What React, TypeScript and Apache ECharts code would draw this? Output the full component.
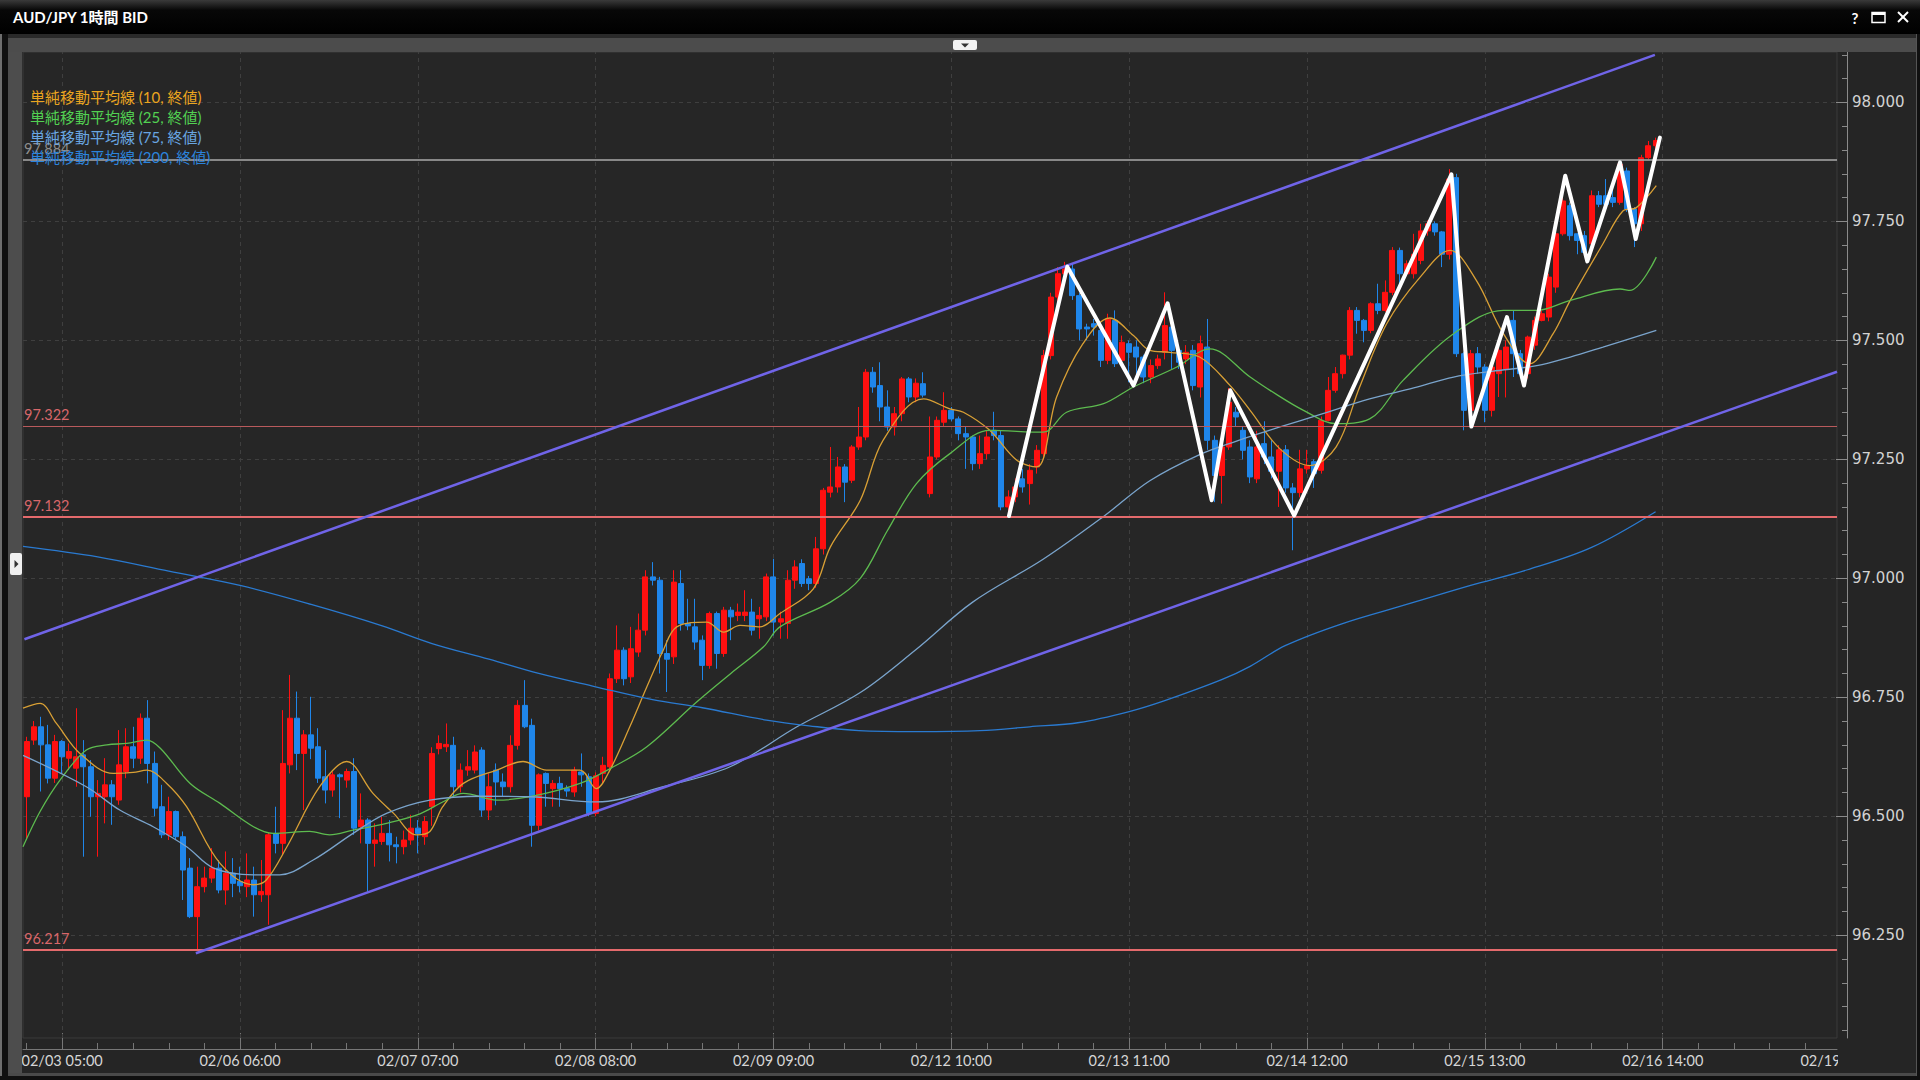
import React, { useEffect, useRef } from 'react';
import * as echarts from 'echarts';

// ---------------- data ----------------
// hourly candles, [open, close, low, high], bar index 0 = 02/03 00:00
const CANDLES: number[][] = [
  [96.541, 96.657, 96.45, 96.667], [96.66, 96.688, 96.65, 96.7], [96.688, 96.65, 96.552, 96.709], [96.65, 96.58, 96.569, 96.692],
  [96.58, 96.657, 96.57, 96.671], [96.657, 96.625, 96.59, 96.66], [96.622, 96.636, 96.597, 96.653], [96.601, 96.625, 96.562, 96.727],
  [96.629, 96.604, 96.415, 96.66], [96.604, 96.541, 96.499, 96.618], [96.541, 96.548, 96.415, 96.576], [96.541, 96.566, 96.485, 96.622],
  [96.566, 96.541, 96.482, 96.576], [96.534, 96.608, 96.524, 96.681], [96.594, 96.646, 96.58, 96.685], [96.646, 96.622, 96.601, 96.688],
  [96.622, 96.706, 96.61, 96.716], [96.706, 96.611, 96.569, 96.744], [96.611, 96.517, 96.5, 96.636], [96.52, 96.461, 96.454, 96.566],
  [96.461, 96.51, 96.45, 96.541], [96.51, 96.457, 96.45, 96.512], [96.457, 96.387, 96.324, 96.468], [96.391, 96.289, 96.286, 96.412],
  [96.289, 96.352, 96.217, 96.394], [96.352, 96.37, 96.34, 96.394], [96.37, 96.391, 96.36, 96.433], [96.391, 96.345, 96.338, 96.408],
  [96.345, 96.38, 96.314, 96.426], [96.38, 96.359, 96.33, 96.412], [96.363, 96.354, 96.34, 96.394], [96.352, 96.366, 96.33, 96.422],
  [96.366, 96.335, 96.289, 96.394], [96.335, 96.342, 96.32, 96.408], [96.335, 96.461, 96.272, 96.465], [96.464, 96.443, 96.422, 96.52],
  [96.443, 96.611, 96.42, 96.723], [96.608, 96.706, 96.59, 96.797], [96.706, 96.632, 96.597, 96.762], [96.632, 96.671, 96.513, 96.681],
  [96.671, 96.643, 96.62, 96.751], [96.646, 96.58, 96.57, 96.685], [96.583, 96.555, 96.527, 96.639], [96.555, 96.587, 96.541, 96.594],
  [96.587, 96.583, 96.496, 96.59], [96.576, 96.594, 96.56, 96.6], [96.594, 96.475, 96.461, 96.622], [96.478, 96.492, 96.443, 96.548],
  [96.492, 96.443, 96.342, 96.496], [96.443, 96.45, 96.394, 96.485], [96.447, 96.464, 96.44, 96.499], [96.464, 96.44, 96.405, 96.492],
  [96.44, 96.436, 96.401, 96.457], [96.436, 96.45, 96.42, 96.47], [96.45, 96.475, 96.44, 96.503], [96.475, 96.464, 96.422, 96.492],
  [96.457, 96.489, 96.44, 96.5], [96.52, 96.632, 96.48, 96.645], [96.642, 96.653, 96.63, 96.67], [96.646, 96.651, 96.635, 96.695],
  [96.649, 96.562, 96.541, 96.667], [96.562, 96.597, 96.55, 96.611], [96.597, 96.604, 96.585, 96.639], [96.597, 96.635, 96.59, 96.649],
  [96.639, 96.513, 96.499, 96.645], [96.513, 96.562, 96.492, 96.59], [96.597, 96.572, 96.523, 96.611], [96.572, 96.562, 96.541, 96.59],
  [96.562, 96.649, 96.55, 96.67], [96.649, 96.733, 96.64, 96.744], [96.733, 96.688, 96.685, 96.786], [96.691, 96.481, 96.436, 96.705],
  [96.481, 96.587, 96.47, 96.59], [96.59, 96.569, 96.52, 96.592], [96.558, 96.569, 96.52, 96.576], [96.569, 96.558, 96.52, 96.583],
  [96.558, 96.553, 96.541, 96.565], [96.551, 96.597, 96.541, 96.604], [96.593, 96.587, 96.562, 96.632], [96.583, 96.506, 96.5, 96.59],
  [96.506, 96.585, 96.5, 96.592], [96.59, 96.607, 96.57, 96.625], [96.604, 96.789, 96.595, 96.8], [96.789, 96.849, 96.78, 96.901],
  [96.849, 96.789, 96.775, 96.855], [96.793, 96.852, 96.78, 96.898], [96.845, 96.891, 96.835, 96.926], [96.891, 97.003, 96.88, 97.017],
  [97.003, 96.996, 96.985, 97.034], [96.996, 96.842, 96.8, 97.003], [96.842, 96.83, 96.761, 96.87], [96.835, 96.992, 96.82, 97.017],
  [96.989, 96.905, 96.89, 97.017], [96.905, 96.9, 96.891, 96.957], [96.898, 96.866, 96.85, 96.957], [96.87, 96.817, 96.786, 96.88],
  [96.817, 96.926, 96.81, 96.93], [96.926, 96.842, 96.81, 96.93], [96.842, 96.933, 96.835, 96.94], [96.933, 96.919, 96.87, 96.94],
  [96.922, 96.929, 96.91, 96.947], [96.922, 96.929, 96.91, 96.975], [96.929, 96.891, 96.88, 96.957], [96.915, 96.922, 96.873, 96.94],
  [96.919, 97.003, 96.91, 97.01], [97.003, 96.908, 96.88, 97.041], [96.908, 96.915, 96.873, 96.93], [96.905, 96.996, 96.873, 97.017],
  [96.996, 97.024, 96.978, 97.038], [97.031, 96.989, 96.982, 97.04], [96.999, 96.989, 96.975, 97.005], [96.989, 97.062, 96.98, 97.087],
  [97.062, 97.185, 97.05, 97.19], [97.181, 97.192, 97.17, 97.276], [97.192, 97.234, 97.18, 97.255], [97.234, 97.202, 97.16, 97.24],
  [97.206, 97.276, 97.2, 97.28], [97.276, 97.297, 97.27, 97.36], [97.297, 97.433, 97.29, 97.44], [97.433, 97.402, 97.39, 97.444],
  [97.405, 97.36, 97.33, 97.454], [97.36, 97.318, 97.31, 97.395], [97.318, 97.346, 97.3, 97.36], [97.346, 97.419, 97.33, 97.423],
  [97.419, 97.381, 97.37, 97.423], [97.381, 97.41, 97.37, 97.42], [97.409, 97.385, 97.38, 97.433], [97.178, 97.255, 97.17, 97.34],
  [97.255, 97.332, 97.25, 97.34], [97.328, 97.353, 97.32, 97.391], [97.353, 97.335, 97.33, 97.36], [97.335, 97.304, 97.29, 97.34],
  [97.304, 97.297, 97.23, 97.32], [97.297, 97.241, 97.227, 97.3], [97.241, 97.262, 97.23, 97.3], [97.262, 97.297, 97.25, 97.31],
  [97.311, 97.3, 97.29, 97.35], [97.3, 97.15, 97.143, 97.31], [97.15, 97.171, 97.135, 97.185], [97.171, 97.192, 97.16, 97.21],
  [97.209, 97.192, 97.18, 97.23], [97.199, 97.227, 97.155, 97.24], [97.234, 97.269, 97.22, 97.28], [97.262, 97.468, 97.25, 97.48],
  [97.468, 97.591, 97.46, 97.6], [97.591, 97.64, 97.58, 97.654], [97.64, 97.65, 97.62, 97.665], [97.65, 97.594, 97.585, 97.661],
  [97.594, 97.524, 97.5, 97.6], [97.528, 97.524, 97.5, 97.535], [97.535, 97.528, 97.51, 97.545], [97.521, 97.458, 97.444, 97.535],
  [97.458, 97.545, 97.45, 97.556], [97.542, 97.451, 97.444, 97.563], [97.458, 97.496, 97.45, 97.51], [97.493, 97.475, 97.412, 97.5],
  [97.486, 97.465, 97.42, 97.5], [97.465, 97.423, 97.41, 97.47], [97.423, 97.447, 97.41, 97.46], [97.447, 97.461, 97.44, 97.47],
  [97.475, 97.531, 97.46, 97.601], [97.528, 97.479, 97.44, 97.54], [97.479, 97.454, 97.44, 97.49], [97.461, 97.475, 97.45, 97.49],
  [97.479, 97.405, 97.395, 97.49], [97.402, 97.493, 97.38, 97.51], [97.486, 97.29, 97.27, 97.545], [97.29, 97.216, 97.16, 97.3],
  [97.216, 97.276, 97.157, 97.29], [97.276, 97.37, 97.27, 97.4], [97.349, 97.339, 97.32, 97.36], [97.311, 97.269, 97.25, 97.32],
  [97.276, 97.213, 97.2, 97.29], [97.209, 97.276, 97.2, 97.31], [97.283, 97.255, 97.24, 97.33], [97.255, 97.225, 97.21, 97.29],
  [97.225, 97.27, 97.15, 97.28], [97.27, 97.19, 97.18, 97.28], [97.19, 97.18, 97.059, 97.2], [97.18, 97.23, 97.17, 97.27],
  [97.23, 97.237, 97.22, 97.27], [97.245, 97.22, 97.19, 97.25], [97.227, 97.332, 97.22, 97.34], [97.332, 97.395, 97.33, 97.423],
  [97.395, 97.43, 97.39, 97.444], [97.43, 97.469, 97.42, 97.47], [97.469, 97.563, 97.46, 97.57], [97.563, 97.542, 97.514, 97.57],
  [97.542, 97.521, 97.496, 97.545], [97.521, 97.577, 97.515, 97.58], [97.577, 97.563, 97.555, 97.619], [97.563, 97.601, 97.56, 97.626],
  [97.601, 97.689, 97.595, 97.696], [97.689, 97.64, 97.619, 97.695], [97.64, 97.661, 97.635, 97.668], [97.64, 97.681, 97.63, 97.724],
  [97.668, 97.73, 97.66, 97.745], [97.73, 97.745, 97.72, 97.752], [97.745, 97.728, 97.72, 97.75], [97.728, 97.681, 97.654, 97.73],
  [97.681, 97.839, 97.67, 97.86], [97.842, 97.472, 97.465, 97.85], [97.472, 97.353, 97.311, 97.475], [97.353, 97.472, 97.33, 97.48],
  [97.472, 97.444, 97.43, 97.486], [97.444, 97.353, 97.328, 97.45], [97.353, 97.444, 97.34, 97.45], [97.43, 97.479, 97.381, 97.486],
  [97.44, 97.486, 97.38, 97.5], [97.542, 97.472, 97.423, 97.563], [97.472, 97.43, 97.42, 97.48], [97.43, 97.507, 97.42, 97.51],
  [97.49, 97.542, 97.48, 97.55], [97.542, 97.556, 97.54, 97.563], [97.549, 97.633, 97.54, 97.64], [97.612, 97.724, 97.6, 97.73],
  [97.724, 97.793, 97.72, 97.8], [97.783, 97.72, 97.71, 97.79], [97.724, 97.71, 97.681, 97.725], [97.72, 97.685, 97.675, 97.73],
  [97.703, 97.804, 97.7, 97.815], [97.804, 97.786, 97.78, 97.814], [97.804, 97.786, 97.78, 97.839], [97.8, 97.79, 97.78, 97.82],
  [97.79, 97.87, 97.785, 97.877], [97.856, 97.776, 97.77, 97.863], [97.776, 97.745, 97.696, 97.78], [97.745, 97.884, 97.73, 97.89],
  [97.884, 97.909, 97.88, 97.919], [97.909, 97.92, 97.9, 97.926],
];

const BAR_SLOTS = 255; // bar slots shown on the time axis
const TICK_LABELS = [
  '02/03 05:00', '02/06 06:00', '02/07 07:00', '02/08 08:00', '02/09 09:00',
  '02/12 10:00', '02/13 11:00', '02/14 12:00', '02/15 13:00', '02/16 14:00',
];
const TICK_FIRST = 5;
const TICK_STEP = 25;
const NEXT_TICK_LABEL = '02/19 15:00';
const MINOR_X_STEP = 5;

const Y_MIN = 96.034;
const Y_MAX = 98.106;
const Y_LABELS = [96.25, 96.5, 96.75, 97.0, 97.25, 97.5, 97.75, 98.0];
const Y_MINOR_STEP = 0.05;

// moving averages, [bar index, value]
const MA10 = [
  [-0.5, 96.727], [1.9, 96.737], [4.2, 96.695], [7.5, 96.632], [12.2, 96.59], [15, 96.592], [16.9, 96.597],
  [19.7, 96.569], [22.5, 96.52], [27.2, 96.401], [31.9, 96.356], [33.7, 96.366], [36.6, 96.436], [41.2, 96.562],
  [45, 96.615], [48.7, 96.548], [51.6, 96.506], [54.8, 96.461], [56.7, 96.468], [58.5, 96.52], [61.4, 96.569],
  [66.1, 96.597], [69.8, 96.615], [73.1, 96.597], [77.8, 96.597], [80.1, 96.558], [82, 96.597], [84.8, 96.688],
  [87.2, 96.772], [89.5, 96.849], [91.4, 96.898], [95.6, 96.908], [98, 96.887], [100.3, 96.901], [103.1, 96.898],
  [105.9, 96.926], [110.6, 96.978], [113, 97.066], [117.2, 97.164], [120.4, 97.29], [126.1, 97.377], [129.8, 97.356],
  [131.7, 97.349], [135.4, 97.311], [139.2, 97.248], [142, 97.234], [144.8, 97.381], [148.5, 97.493], [152.3, 97.547],
  [155.6, 97.51], [157.9, 97.479], [160.7, 97.475], [164.9, 97.465], [169.2, 97.405], [172, 97.353], [176.2, 97.272],
  [180.4, 97.237], [184.1, 97.276], [187.4, 97.402], [191.2, 97.535], [195.9, 97.633], [200.1, 97.689], [203.8, 97.626],
  [207.6, 97.514], [211.3, 97.451], [214.6, 97.514], [217, 97.584], [221.6, 97.703], [224.4, 97.772], [226.3, 97.779],
  [229.1, 97.825],
];
const MA25 = [
  [-0.5, 96.436], [1.9, 96.51], [4.7, 96.576], [8.4, 96.639], [11.3, 96.65], [14.1, 96.653], [16.9, 96.66],
  [18.8, 96.643], [23, 96.569], [27.2, 96.527], [31.9, 96.478], [34.7, 96.464], [39.8, 96.468], [42.6, 96.461],
  [45.9, 96.471], [50.6, 96.485], [55.3, 96.505], [58.5, 96.53], [61.4, 96.548], [66.1, 96.534], [70.8, 96.541],
  [77.8, 96.569], [82.5, 96.604], [87.2, 96.646], [94.2, 96.74], [99, 96.8], [103.6, 96.856], [105.9, 96.898],
  [113, 96.95], [117.2, 97.0], [121, 97.1], [125.1, 97.199], [129.8, 97.262], [135.4, 97.311], [142.9, 97.307],
  [146.2, 97.349], [151.4, 97.367], [155.6, 97.402], [161.7, 97.444], [166.3, 97.482], [172, 97.423], [174.8, 97.395],
  [179.5, 97.353], [184.1, 97.325], [188.8, 97.335], [193.5, 97.416], [200.6, 97.514], [207.6, 97.563], [212.3, 97.563],
  [217, 97.584], [224, 97.608], [225.4, 97.605], [229.1, 97.675],
];
const MA75 = [
  [-0.5, 96.628], [8.4, 96.562], [13.1, 96.513], [17.8, 96.478], [22.5, 96.436], [26.3, 96.391], [31.9, 96.377],
  [35.6, 96.377], [40.3, 96.408], [45.9, 96.464], [50.6, 96.506], [56.7, 96.534], [64, 96.542], [70.8, 96.541],
  [80.1, 96.53], [89.5, 96.562], [98.9, 96.604], [108.3, 96.688], [117.2, 96.76], [125, 96.85], [133, 96.95],
  [142.9, 97.04], [151.4, 97.13], [157.9, 97.205], [164.9, 97.26], [170, 97.288], [176.2, 97.318], [182, 97.345],
  [188.8, 97.377], [195, 97.4], [200.6, 97.423], [206, 97.435], [212.3, 97.447], [217, 97.465], [221.6, 97.486],
  [229.1, 97.521],
];
const MA200 = [
  [-0.5, 97.067], [10, 97.045], [20, 97.015], [30, 96.985], [40, 96.945], [50, 96.9], [57, 96.863], [65, 96.83],
  [72, 96.8], [80, 96.772], [88, 96.745], [95, 96.728], [104, 96.702], [110, 96.69], [117, 96.68], [125, 96.678],
  [134, 96.68], [141, 96.688], [148, 96.697], [155, 96.72], [160, 96.743], [168, 96.787], [172, 96.815], [177, 96.859],
  [185, 96.905], [194, 96.945], [203, 96.985], [211, 97.018], [220, 97.065], [229, 97.14],
];

const MA_NAMES = ['単純移動平均線 (10, 終値)', '単純移動平均線 (25, 終値)', '単純移動平均線 (75, 終値)', '単純移動平均線 (200, 終値)'];

// drawn channel, levels and zigzag
const UPPER_CHANNEL = [[-0.3, 96.872], [228.9, 98.1]];
const LOWER_CHANNEL = [[23.8, 96.212], [254.5, 97.434]];
const LEVELS = [97.884, 97.322, 97.132, 96.217];
const ZIGZAG = [
  [138.1, 97.131], [146.3, 97.655], [155.6, 97.405], [160.4, 97.578], [166.6, 97.164], [169.2, 97.395],
  [178.2, 97.132], [200.3, 97.849], [203.1, 97.319], [208.1, 97.549], [210.5, 97.405], [216.3, 97.846],
  [219.4, 97.666], [224, 97.874], [226.2, 97.713], [229.6, 97.926],
];

// ---------------- styles ----------------
const FONT = 'Lato, "Noto Sans CJK JP", sans-serif';
const AXIS_FONT = '"DejaVu Sans", Lato, sans-serif';
const UP = '#ff1010';
const DOWN = '#1f86ea';
const MA_COLORS = ['#d9a035', '#5dbb4f', '#7aa4cc', '#2a7ad0'];
const LEGEND_COLORS = ['#eba51f', '#52d152', '#69a6e2', '#2b83dc'];
const LEVEL_STYLES = [
  { color: '#aaaaaa', width: 1.5, label: '#8e8e8e' },
  { color: '#b95a5c', width: 1, label: '#d8676a' },
  { color: '#e46a6c', width: 2, label: '#d8676a' },
  { color: '#e46a6c', width: 2, label: '#d8676a' },
];
const BG = '#252525';

function buildOption() {
  const categories = Array.from({ length: BAR_SLOTS }, (_, i) => String(i));
  const isMajor = (i: number) => i >= TICK_FIRST && (i - TICK_FIRST) % TICK_STEP === 0;
  const xMinor: number[] = [];
  for (let v = 0; v < BAR_SLOTS; v += MINOR_X_STEP) xMinor.push(v);
  const yMinor: number[] = [];
  for (let k = Math.ceil(Y_MIN / Y_MINOR_STEP); k * Y_MINOR_STEP <= Y_MAX; k++) yMinor.push(+(k * Y_MINOR_STEP).toFixed(2));
  const majorX = categories.map((_, i) => i).filter(isMajor);

  const maSeries = [MA10, MA25, MA75, MA200].map((d, k) => ({
    name: MA_NAMES[k],
    type: 'line',
    xAxisIndex: 1,
    yAxisIndex: 0,
    data: d,
    symbol: 'none',
    smooth: 0.35,
    z: 3,
    silent: true,
    lineStyle: { color: MA_COLORS[k], width: 1.3 },
    itemStyle: { color: MA_COLORS[k] },
    ...(k === 3
      ? {
          markLine: {
            z: 1,
            silent: true,
            symbol: 'none',
            label: { show: false },
            lineStyle: { color: '#3f3f3f', type: [4, 4], width: 1 },
            data: [...Y_LABELS.map((v) => ({ yAxis: v })), ...majorX.map((v) => ({ xAxis: v }))],
          },
        }
      : {}),
  }));

  return {
    animation: false,
    backgroundColor: BG,
    textStyle: { fontFamily: FONT },
    grid: {
      left: 23, right: 83, top: 52, bottom: 42,
      show: true, backgroundColor: '#262626', borderColor: '#3a3a3a', borderWidth: 1,
    },
    legend: {
      data: MA_NAMES.map((n, k) => ({ name: n, icon: 'none', textStyle: { color: LEGEND_COLORS[k] } })),
      orient: 'vertical', left: 25, top: 89, itemWidth: 0, itemHeight: 15, itemGap: 5, padding: 0,
      selectedMode: false,
      textStyle: { fontSize: 15, fontFamily: FONT },
      z: 8,
    },
    xAxis: [
      {
        type: 'category', data: categories, position: 'bottom', offset: 11, boundaryGap: true,
        axisLine: { show: true, onZero: false, lineStyle: { color: '#777777' } },
        axisTick: { show: true, alignWithLabel: true, inside: true, length: 16, interval: isMajor, lineStyle: { color: '#777777' } },
        axisLabel: {
          interval: isMajor, color: '#d6d6d6', fontSize: 14.5, margin: 4, fontFamily: FONT,
          formatter: (_v: string, i: number) => TICK_LABELS[(i - TICK_FIRST) / TICK_STEP] ?? '',
        },
        splitLine: { show: false },
      },
      {
        type: 'value', min: -0.5, max: BAR_SLOTS - 0.5, position: 'bottom', offset: 11,
        axisLine: { show: false, onZero: false },
        axisTick: { show: true, inside: true, length: 6, customValues: xMinor, lineStyle: { color: '#777777' } },
        axisLabel: { show: false },
        splitLine: { show: false },
      },
    ],
    yAxis: [
      {
        type: 'value', min: Y_MIN, max: Y_MAX, position: 'right', offset: 10,
        axisLine: { show: true, onZero: false, lineStyle: { color: '#8a8a8a' } },
        axisTick: { show: true, inside: true, length: 11, customValues: Y_LABELS, lineStyle: { color: '#8a8a8a' } },
        axisLabel: {
          customValues: Y_LABELS, color: '#d2d2d2', fontSize: 15, margin: 5, fontFamily: AXIS_FONT,
          formatter: (v: number) => v.toFixed(3),
        },
        splitLine: { show: false },
      },
      {
        type: 'value', min: Y_MIN, max: Y_MAX, position: 'right', offset: 10,
        axisLine: { show: false, onZero: false },
        axisTick: { show: true, inside: true, length: 5, customValues: yMinor, lineStyle: { color: '#8a8a8a' } },
        axisLabel: { show: false },
        splitLine: { show: false },
      },
    ],
    series: [
      {
        name: 'AUD/JPY',
        type: 'candlestick',
        xAxisIndex: 0,
        yAxisIndex: 0,
        data: CANDLES,
        barWidth: 5.5,
        z: 2,
        silent: true,
        itemStyle: { color: UP, color0: DOWN, borderColor: UP, borderColor0: DOWN, borderWidth: 1 },
        markLine: {
          z: 4,
          silent: true,
          symbol: 'none',
          data: LEVELS.map((v, k) => ({
            yAxis: v,
            lineStyle: { color: LEVEL_STYLES[k].color, width: LEVEL_STYLES[k].width, type: 'solid' },
            label: {
              show: true, position: 'insideStartTop', distance: [1, 4],
              color: LEVEL_STYLES[k].label, fontSize: 14.5, fontFamily: FONT,
              formatter: () => v.toFixed(3),
            },
          })),
        },
      },
      ...maSeries,
      ...[UPPER_CHANNEL, LOWER_CHANNEL].map((d) => ({
        type: 'line', xAxisIndex: 1, yAxisIndex: 0, data: d, symbol: 'none', z: 5, silent: true,
        lineStyle: { color: '#7064e8', width: 2.5 },
      })),
      {
        type: 'line', xAxisIndex: 1, yAxisIndex: 0, data: ZIGZAG, symbol: 'none', z: 6, silent: true,
        lineStyle: { color: '#ffffff', width: 4, join: 'round', cap: 'round' },
      },
    ],
    graphic: [
      {
        type: 'rect', z: 100, shape: { x: 0, y: 0, width: 1920, height: 34 },
        style: {
          fill: { type: 'linear', x: 0, y: 0, x2: 0, y2: 1, colorStops: [
            { offset: 0, color: '#3a3a3a' }, { offset: 0.3, color: '#070707' }, { offset: 1, color: '#000000' },
          ] },
        },
      },
      { type: 'rect', z: 100, shape: { x: 0, y: 34, width: 1920, height: 4 }, style: { fill: '#2a2a2a' } },
      { type: 'rect', z: 100, shape: { x: 8, y: 38, width: 1909, height: 14 }, style: { fill: '#4c4c4c' } },
      { type: 'rect', z: 101, shape: { x: 953, y: 40, width: 24, height: 10, r: 2 }, style: { fill: '#f2f2f2' } },
      { type: 'polygon', z: 102, shape: { points: [[961, 43.5], [969, 43.5], [965, 47.5]] }, style: { fill: '#333333' } },
      {
        type: 'text', z: 101, x: 13, y: 17,
        style: { text: 'AUD/JPY 1時間 BID', fill: '#ffffff', fontSize: 15, fontWeight: 'bold', fontFamily: FONT, verticalAlign: 'middle' },
      },
      {
        type: 'text', z: 101, x: 1855, y: 18,
        style: { text: '?', fill: '#ffffff', fontSize: 15, fontWeight: 'bold', fontFamily: FONT, align: 'center', verticalAlign: 'middle' },
      },
      { type: 'rect', z: 101, shape: { x: 1872, y: 12.5, width: 13, height: 10 }, style: { fill: 'none', stroke: '#ffffff', lineWidth: 1.5 } },
      { type: 'rect', z: 101, shape: { x: 1872, y: 12, width: 13, height: 3 }, style: { fill: '#ffffff' } },
      { type: 'line', z: 101, shape: { x1: 1898, y1: 12, x2: 1908, y2: 22 }, style: { stroke: '#ffffff', lineWidth: 2 } },
      { type: 'line', z: 101, shape: { x1: 1908, y1: 12, x2: 1898, y2: 22 }, style: { stroke: '#ffffff', lineWidth: 2 } },
      // window frame
      { type: 'rect', z: 100, shape: { x: 0, y: 34, width: 2, height: 1046 }, style: { fill: '#6e6e6e' } },
      { type: 'rect', z: 100, shape: { x: 2, y: 34, width: 6, height: 1046 }, style: { fill: '#101010' } },
      { type: 'rect', z: 100, shape: { x: 8, y: 52, width: 14, height: 1021 }, style: { fill: '#4d4d4d' } },
      { type: 'rect', z: 101, shape: { x: 10, y: 553, width: 12, height: 22, r: 2 }, style: { fill: '#f0f0f0' } },
      { type: 'polygon', z: 102, shape: { points: [[14.5, 560], [14.5, 568], [18.5, 564]] }, style: { fill: '#333333' } },
      { type: 'rect', z: 100, shape: { x: 8, y: 1073, width: 1909, height: 3 }, style: { fill: '#4a4a4a' } },
      { type: 'rect', z: 100, shape: { x: 0, y: 1076, width: 1920, height: 4 }, style: { fill: '#101010' } },
      { type: 'rect', z: 100, shape: { x: 1916, y: 34, width: 1, height: 1042 }, style: { fill: '#555555' } },
      { type: 'rect', z: 100, shape: { x: 1917, y: 34, width: 3, height: 1046 }, style: { fill: '#101010' } },
      // next time label, cut at the price-axis panel
      {
        type: 'text', z: 50, x: 1841, y: 1060,
        style: { text: NEXT_TICK_LABEL, fill: '#d6d6d6', fontSize: 14.5, fontFamily: FONT, align: 'center', verticalAlign: 'middle' },
      },
      { type: 'rect', z: 60, shape: { x: 1838, y: 1051, width: 78, height: 21 }, style: { fill: BG } },
    ],
  };
}

export default function App() {
  const ref = useRef<HTMLDivElement>(null);
  useEffect(() => {
    if (!ref.current) return;
    const chart = echarts.init(ref.current, null, { renderer: 'svg' });
    chart.setOption(buildOption() as any);
    return () => chart.dispose();
  }, []);
  return (
    <div
      ref={ref}
      style={{ position: 'fixed', left: 0, top: 0, width: 1920, height: 1080, background: BG }}
    />
  );
}
